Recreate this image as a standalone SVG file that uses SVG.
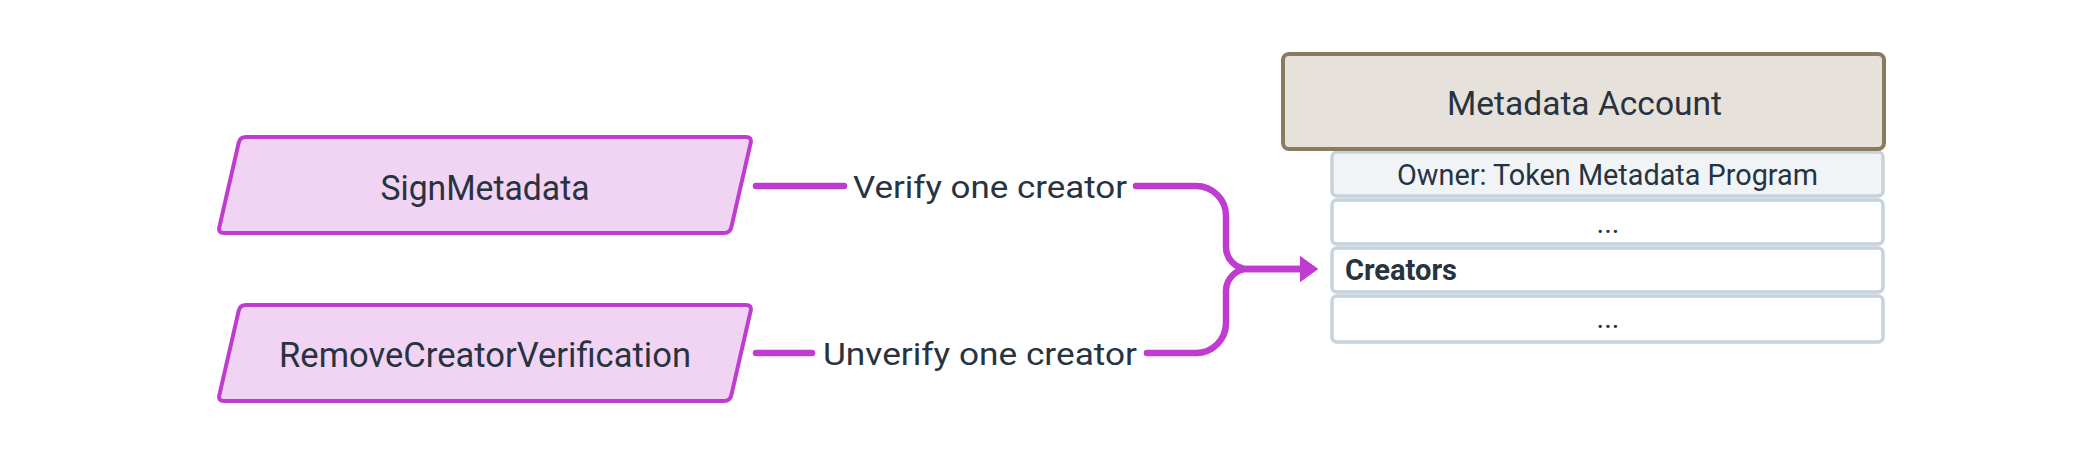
<svg xmlns="http://www.w3.org/2000/svg" width="2100" height="456" viewBox="0 0 2100 456">
  <style>
    .instr { fill: #f1d3f4; stroke: #c03bd0; stroke-width: 4; }
    .lbl { font-family: Roboto, "Liberation Sans", sans-serif; font-weight: 400; fill: #27333f; }
    .bold { font-weight: 700; }
    .conn { fill: none; stroke: #c03bd0; stroke-width: 6.5; stroke-linecap: round; stroke-linejoin: round; }
    .acct { fill: #e6e2db; stroke: #8b7b5e; stroke-width: 4; }
    .row { fill: #ffffff; stroke: #c6d2dc; stroke-width: 3.5; }
    .row0 { fill: #f0f4f7; }
  </style>
  <defs>
    <marker id="arrow" markerUnits="userSpaceOnUse" viewBox="0 0 18 26" refX="2" refY="13" markerWidth="18" markerHeight="26" orient="auto">
      <path d="M0,0 L18,13 L0,26 Z" fill="#c03bd0"/>
    </marker>
  </defs>
  <rect width="2100" height="456" fill="#ffffff"/>

  <g id="node-sign-metadata">
    <path class="instr" d="M246,137 H746 Q752,137 750.66,142.85 L731.34,227.15 Q730,233 724,233 H224 Q218,233 219.34,227.15 L238.66,142.85 Q240,137 246,137 Z"/>
    <text class="lbl" x="485" y="200" font-size="35" text-anchor="middle" textLength="209" lengthAdjust="spacingAndGlyphs">SignMetadata</text>
  </g>

  <g id="node-remove-creator-verification">
    <path class="instr" d="M246,305 H746 Q752,305 750.66,310.85 L731.34,395.15 Q730,401 724,401 H224 Q218,401 219.34,395.15 L238.66,310.85 Q240,305 246,305 Z"/>
    <text class="lbl" x="485" y="367" font-size="35" text-anchor="middle" textLength="412" lengthAdjust="spacingAndGlyphs">RemoveCreatorVerification</text>
  </g>

  <g id="node-metadata-account">
    <rect class="row row0" x="1332" y="152" width="551" height="44" rx="5"/>
    <rect class="row" x="1332" y="200" width="551" height="44" rx="5"/>
    <rect class="row" x="1332" y="248" width="551" height="44" rx="5"/>
    <rect class="row" x="1332" y="296" width="551" height="46" rx="5"/>
    <rect class="acct" x="1283" y="54" width="601" height="95" rx="6"/>
    <text class="lbl" x="1584.5" y="115" font-size="33.5" text-anchor="middle" textLength="275" lengthAdjust="spacingAndGlyphs">Metadata Account</text>
    <text class="lbl" x="1607.5" y="185" font-size="29.5" text-anchor="middle" textLength="421" lengthAdjust="spacingAndGlyphs">Owner: Token Metadata Program</text>
    <text class="lbl" x="1608" y="233" font-size="29" text-anchor="middle">...</text>
    <text class="lbl bold" x="1345" y="280" font-size="29" textLength="112" lengthAdjust="spacingAndGlyphs">Creators</text>
    <text class="lbl" x="1608" y="328" font-size="29" text-anchor="middle">...</text>
  </g>

  <g id="connectors">
    <path class="conn" d="M756,186 H844"/>
    <path class="conn" d="M1136,186 H1196 A30,30 0 0 1 1226,216 V247 A22,22 0 0 0 1248,269 H1302" marker-end="url(#arrow)"/>
    <text class="lbl" x="990" y="198" font-size="32" text-anchor="middle" textLength="274" lengthAdjust="spacingAndGlyphs">Verify one creator</text>
    <path class="conn" d="M756,353 H812"/>
    <path class="conn" d="M1147,353 H1196 A30,30 0 0 0 1226,323 V291 A22,22 0 0 1 1248,269 H1302" marker-end="url(#arrow)"/>
    <text class="lbl" x="980" y="365" font-size="32" text-anchor="middle" textLength="314" lengthAdjust="spacingAndGlyphs">Unverify one creator</text>
  </g>
</svg>
